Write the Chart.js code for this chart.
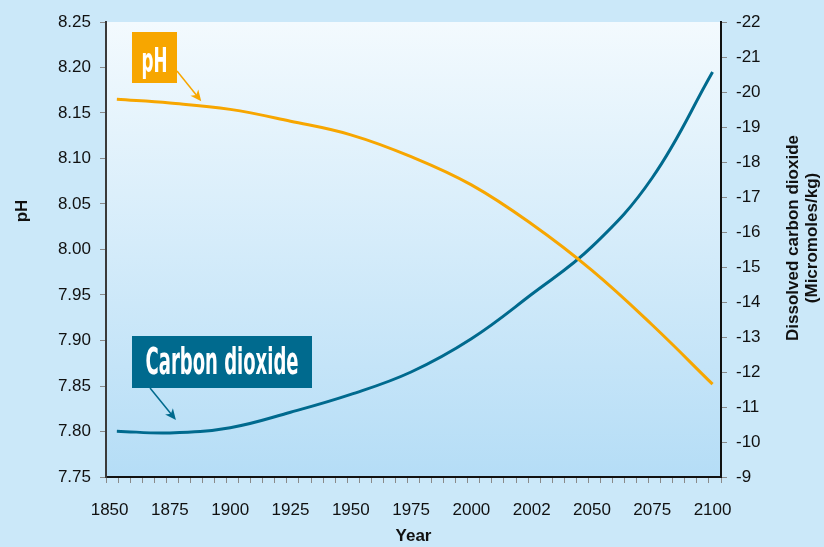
<!DOCTYPE html>
<html>
<head>
<meta charset="utf-8">
<script src="https://cdn.jsdelivr.net/npm/chart.js@4.4.1/dist/chart.umd.min.js"></script>
<style>
  html, body { margin: 0; padding: 0; background: #cbe8f9; }
  #wrap { width: 824px; height: 547px; }
</style>
</head>
<body>
<div id="wrap"><canvas id="graph1" width="824" height="547"></canvas></div>
<script>
// data
var years = [1853, 1875, 1900, 1925, 1950, 1975, 2000, 2025, 2050, 2075, 2100];
var phValues = [8.165, 8.161, 8.154, 8.141, 8.126, 8.102, 8.071, 8.028, 7.977, 7.917, 7.852];
var co2Values = [-10.31, -10.26, -10.41, -10.85, -11.36, -12.0, -12.95, -14.22, -15.58, -17.55, -20.57];
var labelYears = [1850, 1875, 1900, 1925, 1950, 1975, 2000, 2025, 2050, 2075, 2100];
var labelTexts = ['1850', '1875', '1900', '1925', '1950', '1975', '2000', '2002', '2050', '2075', '2100'];

var orange = '#f7a600';
var teal = '#006a8e';
var tickFont = { family: 'Liberation Sans, Arial, sans-serif', size: 17 };
var titleFont = { family: 'Liberation Sans, Arial, sans-serif', size: 17, weight: 'bold' };
var boxFont = '"Liberation Sans Narrow", "DejaVu Sans Condensed", "Liberation Sans", sans-serif';

function drawArrow(ctx, x1, y1, x2, y2, color) {
  var a = Math.atan2(y2 - y1, x2 - x1);
  ctx.save();
  ctx.strokeStyle = color;
  ctx.fillStyle = color;
  ctx.lineWidth = 1.5;
  ctx.beginPath();
  ctx.moveTo(x1, y1);
  ctx.lineTo(x2 - 6 * Math.cos(a), y2 - 6 * Math.sin(a));
  ctx.stroke();
  ctx.beginPath();
  ctx.moveTo(x2, y2);
  ctx.lineTo(x2 - 11 * Math.cos(a) + 5 * Math.sin(a), y2 - 11 * Math.sin(a) - 5 * Math.cos(a));
  ctx.lineTo(x2 - 8 * Math.cos(a), y2 - 8 * Math.sin(a));
  ctx.lineTo(x2 - 11 * Math.cos(a) - 5 * Math.sin(a), y2 - 11 * Math.sin(a) + 5 * Math.cos(a));
  ctx.closePath();
  ctx.fill();
  ctx.restore();
}

function boxLabel(ctx, text, x, y, w, h, color, size, textW, baseline) {
  ctx.save();
  ctx.fillStyle = color;
  ctx.fillRect(x, y, w, h);
  ctx.font = 'bold ' + size + 'px ' + boxFont;
  var m = ctx.measureText(text).width;
  ctx.fillStyle = '#ffffff';
  ctx.textBaseline = 'alphabetic';
  ctx.translate(x + w / 2, baseline);
  ctx.scale(textW / m, 1);
  ctx.textAlign = 'center';
  ctx.fillText(text, 0, 0);
  ctx.restore();
}

var decor = {
  id: 'decor',
  beforeDraw: function(chart) {
    var ctx = chart.ctx, a = chart.chartArea;
    ctx.save();
    ctx.fillStyle = '#cbe8f9';
    ctx.fillRect(0, 0, chart.width, chart.height);
    var g = ctx.createLinearGradient(0, a.top, 0, a.bottom);
    g.addColorStop(0, '#f3fafe');
    g.addColorStop(1, '#b5ddf6');
    ctx.fillStyle = g;
    ctx.fillRect(a.left, a.top, a.right - a.left, a.bottom - a.top);
    ctx.restore();
  },
  afterDraw: function(chart) {
    var ctx = chart.ctx;
    var xs = chart.scales.x, ys = chart.scales.y, y1 = chart.scales.y1;
    // axis titles
    ctx.save();
    ctx.fillStyle = '#111';
    ctx.font = 'bold 17px Liberation Sans, Arial, sans-serif';
    ctx.textAlign = 'center';
    ctx.textBaseline = 'middle';
    ctx.translate(22, 211);
    ctx.rotate(-Math.PI / 2);
    ctx.fillText('pH', 0, 0);
    ctx.restore();
    ctx.save();
    ctx.fillStyle = '#111';
    ctx.font = 'bold 17px Liberation Sans, Arial, sans-serif';
    ctx.textAlign = 'center';
    ctx.textBaseline = 'middle';
    ctx.translate(793, 238);
    ctx.rotate(-Math.PI / 2);
    ctx.fillText('Dissolved carbon dioxide', 0, 0);
    ctx.fillText('(Micromoles/kg)', 0, 19);
    ctx.restore();
    // callouts
    boxLabel(ctx, 'pH', 132, 32, 45, 51, orange, 33, 26, 72);
    drawArrow(ctx, 177, 71, xs.getPixelForValue(1888), ys.getPixelForValue(8.163), orange);
    boxLabel(ctx, 'Carbon dioxide', 132, 336, 180, 52, teal, 38, 153, 374);
    drawArrow(ctx, 150, 388, xs.getPixelForValue(1877.5), y1.getPixelForValue(-10.63), teal);
  }
};

var minorTicks = [];
for (var k = 0; k <= 51; k++) minorTicks.push(1848.5 + 5 * k);

var ctx = document.querySelector('#graph1').getContext('2d');
var chart = new Chart(ctx, {
  type: 'line',
  data: {
    datasets: [{
      label: 'pH',
      data: years.map(function(yr, i) { return { x: yr, y: phValues[i] }; }),
      borderColor: orange,
      backgroundColor: orange,
      borderWidth: 3,
      pointRadius: 0,
      tension: 0.4,
      yAxisID: 'y'
    }, {
      label: 'Carbon dioxide',
      data: years.map(function(yr, i) { return { x: yr, y: co2Values[i] }; }),
      borderColor: teal,
      backgroundColor: teal,
      borderWidth: 3,
      pointRadius: 0,
      tension: 0.4,
      yAxisID: 'y1'
    }]
  },
  options: {
    responsive: false,
    animation: false,
    layout: { padding: { top: 22, left: 0, right: 0, bottom: 0 } },
    plugins: { legend: { display: false }, tooltip: { enabled: false } },
    scales: {
      x: {
        type: 'linear',
        min: 1848.5,
        max: 2103.5,
        afterFit: function(s) { s.height = 70; },
        afterBuildTicks: function(s) {
          var all = minorTicks.concat(labelYears).sort(function(a, b) { return a - b; });
          s.ticks = all.map(function(v) { return { value: v }; });
        },
        ticks: {
          autoSkip: false,
          maxRotation: 0,
          padding: 17,
          color: '#111',
          font: tickFont,
          callback: function(v) {
            var i = labelYears.indexOf(v);
            return i >= 0 ? labelTexts[i] : '';
          }
        },
        grid: {
          drawOnChartArea: false,
          tickLength: 6,
          color: function(c) {
            return c.tick && labelYears.indexOf(c.tick.value) >= 0 ? 'rgba(0,0,0,0)' : '#8a8a8a';
          }
        },
        border: { color: '#111', width: 2 },
        title: { display: true, text: 'Year', font: titleFont, color: '#111', padding: { top: 0, bottom: 0 } }
      },
      y: {
        position: 'left',
        min: 7.75,
        max: 8.25,
        afterFit: function(s) { s.width = 106; },
        ticks: {
          stepSize: 0.05,
          padding: 9,
          color: '#111',
          font: tickFont,
          callback: function(v) { return v.toFixed(2); }
        },
        grid: { drawOnChartArea: false, tickLength: 6, color: '#8a8a8a' },
        border: { color: '#3a3a3a', width: 2 }
      },
      y1: {
        position: 'right',
        min: -22,
        max: -9,
        reverse: true,
        afterFit: function(s) { s.width = 103; },
        ticks: {
          stepSize: 1,
          padding: 9,
          color: '#111',
          font: tickFont,
          callback: function(v) { return String(v); }
        },
        grid: { drawOnChartArea: false, tickLength: 6, color: '#8a8a8a' },
        border: { color: '#111', width: 2 }
      }
    }
  },
  plugins: [decor]
});
</script>
</body>
</html>
